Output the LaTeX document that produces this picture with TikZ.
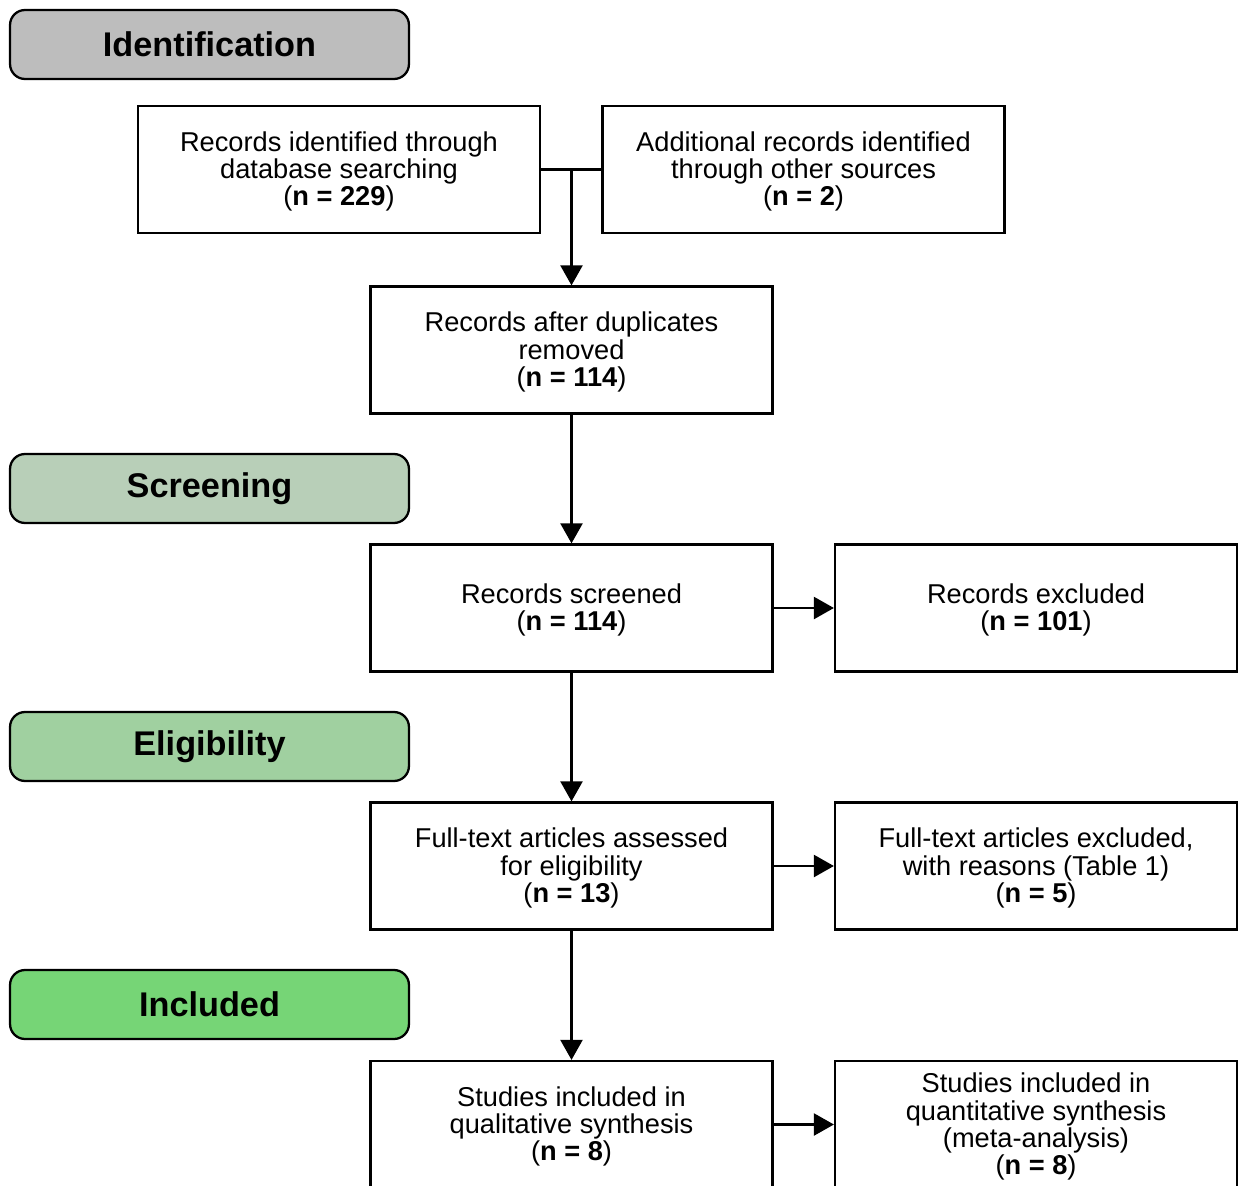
\documentclass[tikz,border=0pt]{standalone}
\usepackage{fontspec}
\setmainfont{Liberation Sans}
\usetikzlibrary{arrows.meta}
\definecolor{cid}{HTML}{BDBDBD}
\definecolor{csc}{HTML}{B8CFB8}
\definecolor{cel}{HTML}{A0D0A0}
\definecolor{cin}{HTML}{76D576}
\newcommand{\bodyf}{\fontsize{15.5}{15.5}\selectfont}
\newcommand{\hdrf}{\fontsize{19.5}{20}\selectfont\bfseries}
\newcommand{\tstrut}{\rule{0pt}{13.6pt}}
\tikzset{
  fbox/.style={draw, line width=1.3pt, minimum width=8.04cm, minimum height=2.54cm, align=center, font=\bodyf, inner sep=0pt},
  hdr/.style={draw, line width=1.3pt, rounded corners=0.3cm, minimum width=7.98cm, minimum height=1.38cm, font=\hdrf, inner sep=0pt},
  arr/.style={line width=1.3pt, -{Triangle[length=0.4cm,width=0.44cm]}},
  ln/.style={line width=1.3pt}
}
\begin{document}
\begin{tikzpicture}[x=0.02cm,y=-0.02cm]
\clip (0,0) rectangle (1244,1186);
\fill[white] (0,0) rectangle (1244,1186);
% headers
\node[hdr, fill=cid] (hid) at (209.5,44.5) {Identification};
\node[hdr, fill=csc] (hsc) at (209.5,488.5) {Screening};
\node[hdr, fill=cel] (hel) at (209.5,746.5) {Eligibility};
\node[hdr, fill=cin] (hin) at (209.5,1004.5) {Included};
% boxes
\node[fbox] (db) at (339,169.5) {\tstrut Records identified through\\database searching\\(\textbf{n = 229})};
\node[fbox] (oth) at (803.5,169.5) {\tstrut Additional records identified\\through other sources\\(\textbf{n = 2})};
\node[fbox] (dup) at (571.5,350) {\tstrut Records after duplicates\\removed\\(\textbf{n = 114})};
\node[fbox] (scr) at (571.5,608) {\tstrut Records screened\\(\textbf{n = 114})};
\node[fbox] (exc) at (1036,608) {\tstrut Records excluded\\(\textbf{n = 101})};
\node[fbox] (ft) at (571.5,866) {\tstrut Full-text articles assessed\\for eligibility\\(\textbf{n = 13})};
\node[fbox] (fte) at (1036,866) {\tstrut Full-text articles excluded,\\with reasons (Table 1)\\(\textbf{n = 5})};
\node[fbox] (qual) at (571.5,1124.5) {\tstrut Studies included in\\qualitative synthesis\\(\textbf{n = 8})};
\node[fbox] (quant) at (1036,1124.5) {\tstrut Studies included in\\quantitative synthesis\\(meta-analysis)\\(\textbf{n = 8})};
% connectors
\coordinate (m) at (dup.north |- db.east);
\draw[ln] (db.east) -- (oth.west);
\draw[arr] (m) -- (dup.north);
\draw[arr] (dup.south) -- (scr.north);
\draw[arr] (scr.east) -- (exc.west);
\draw[arr] (scr.south) -- (ft.north);
\draw[arr] (ft.east) -- (fte.west);
\draw[arr] (ft.south) -- (qual.north);
\draw[arr] (qual.east) -- (quant.west);
\end{tikzpicture}
\end{document}
